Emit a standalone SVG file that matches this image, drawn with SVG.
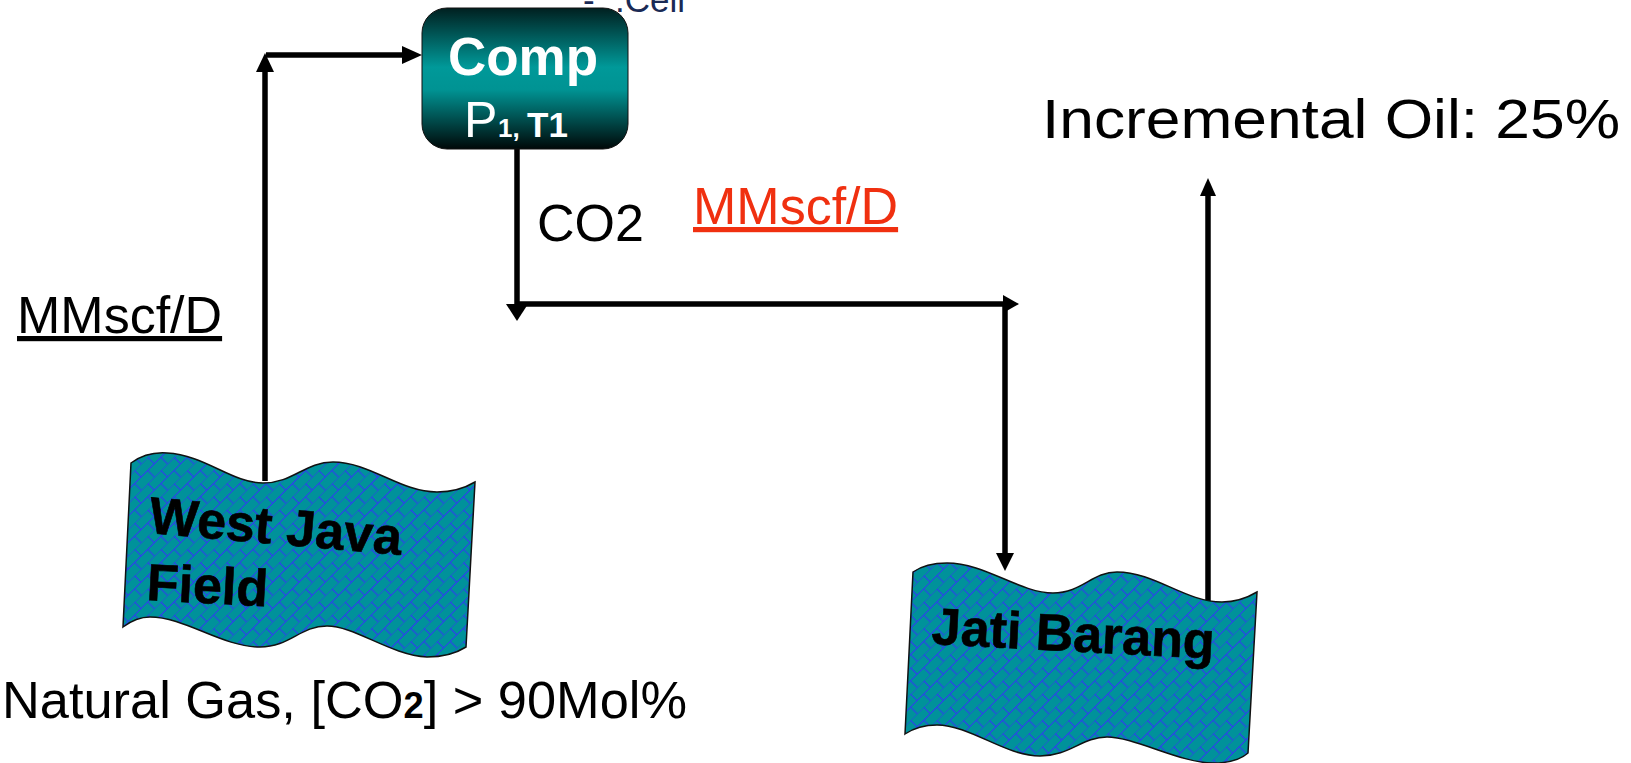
<svg xmlns="http://www.w3.org/2000/svg" width="1631" height="763" viewBox="0 0 1631 763">
<style>
text{font-family:"Liberation Sans",Arial,sans-serif}
.c{fill:none;stroke:#000;stroke-width:5.5}
.h{fill:#000}
.f{fill:url(#brick);stroke:#111;stroke-width:1.5}
.l{font-size:52px;fill:#000}
.b{font-size:52px;font-weight:bold;fill:#000;stroke:#000;stroke-width:.6}
</style>
<defs>
<pattern id="brick" width="30" height="30" patternUnits="userSpaceOnUse" patternTransform="rotate(-45) scale(.62)">
<rect width="30" height="30" fill="#00929a"/>
<path d="M0 0H30M0 15H30M7 0V15M22 15V30" fill="none" stroke="#2f3cf0" stroke-width="1.8"/>
</pattern>
<linearGradient id="g" x1="0" y1="0" x2="0" y2="1">
<stop offset="0" stop-color="#002020"/>
<stop offset=".42" stop-color="#009999"/>
<stop offset=".58" stop-color="#009393"/>
<stop offset="1" stop-color="#000808"/>
</linearGradient>
</defs>
<text y="12" font-size="35" fill="#1a2a55"><tspan x="583">-</tspan><tspan x="615">.Cell</tspan></text>
<g id="connectors">
<path class="c" d="M265 481V60"/>
<path class="h" d="M265 53l-9 19h18z"/>
<path class="c" d="M266 55H404"/>
<path class="h" d="M422 55l-20-9v18z"/>
<path class="c" d="M517 149V305"/>
<path class="h" d="M506 304h22l-11 17z"/>
<path class="c" d="M515 304H1005"/>
<path class="h" d="M1019 304l-16-9v18z"/>
<path class="c" d="M1005 304V555"/>
<path class="h" d="M996 553h18l-9 18z"/>
<path class="c" d="M1208 602V190"/>
<path class="h" d="M1208 178l-8 18h16z"/>
</g>
<g id="comp">
<rect x="422" y="8" width="206" height="141" rx="25" fill="url(#g)" stroke="#111" stroke-width="1"/>
<text x="523" y="75" font-size="53" font-weight="bold" fill="#fff" text-anchor="middle">Comp</text>
<text x="464" y="137" font-size="50" fill="#fff">P</text>
<text x="498" y="137" font-size="26" font-weight="bold" fill="#fff">1,</text>
<text x="527" y="137" font-size="35" font-weight="bold" fill="#fff">T1</text>
</g>
<g id="west-java-field">
<path class="f" d="M131 463C142 455 153 452 167 453C205 455 232 483 263 483C293 483 305 462 333 462C370 462 400 492 437 492C452 492 465 488 475 482L466 647C455 654 442 657 427 657C390 655 355 626 327 626C300 626 290 647 260 647C222 647 185 617 150 617C140 617 131 621 123 627Z"/>
<text class="b" transform="translate(148 533) rotate(5)">West Java</text>
<text class="b" transform="translate(146 600) rotate(3)">Field</text>
</g>
<g id="jati-barang">
<path class="f" d="M913 572C923 565 935 563 947 563C985 563 1020 593 1053 593C1082 593 1092 572 1117 572C1155 572 1185 602 1222 602C1236 602 1247 598 1257 592L1248 753C1240 760 1228 763 1213 763C1180 763 1135 737 1107 737C1082 737 1070 756 1040 756C1005 756 970 725 937 725C925 725 914 728 905 734Z"/>
<text class="b" transform="translate(931 644) rotate(3)">Jati Barang</text>
</g>
<g id="labels">
<text class="l" x="1042" y="138" style="font-size:56px" textLength="578" lengthAdjust="spacingAndGlyphs">Incremental Oil: 25%</text>
<text class="l" x="537" y="241">CO2</text>
<text class="l" x="693" y="224" style="fill:#f03010;text-decoration:underline">MMscf/D</text>
<text class="l" x="17" y="333" style="text-decoration:underline">MMscf/D</text>
<text class="l" x="2" y="718" textLength="685" lengthAdjust="spacingAndGlyphs">Natural Gas, [CO<tspan font-weight="bold" font-size="36">2</tspan>] &gt; 90Mol%</text>
</g>
</svg>
